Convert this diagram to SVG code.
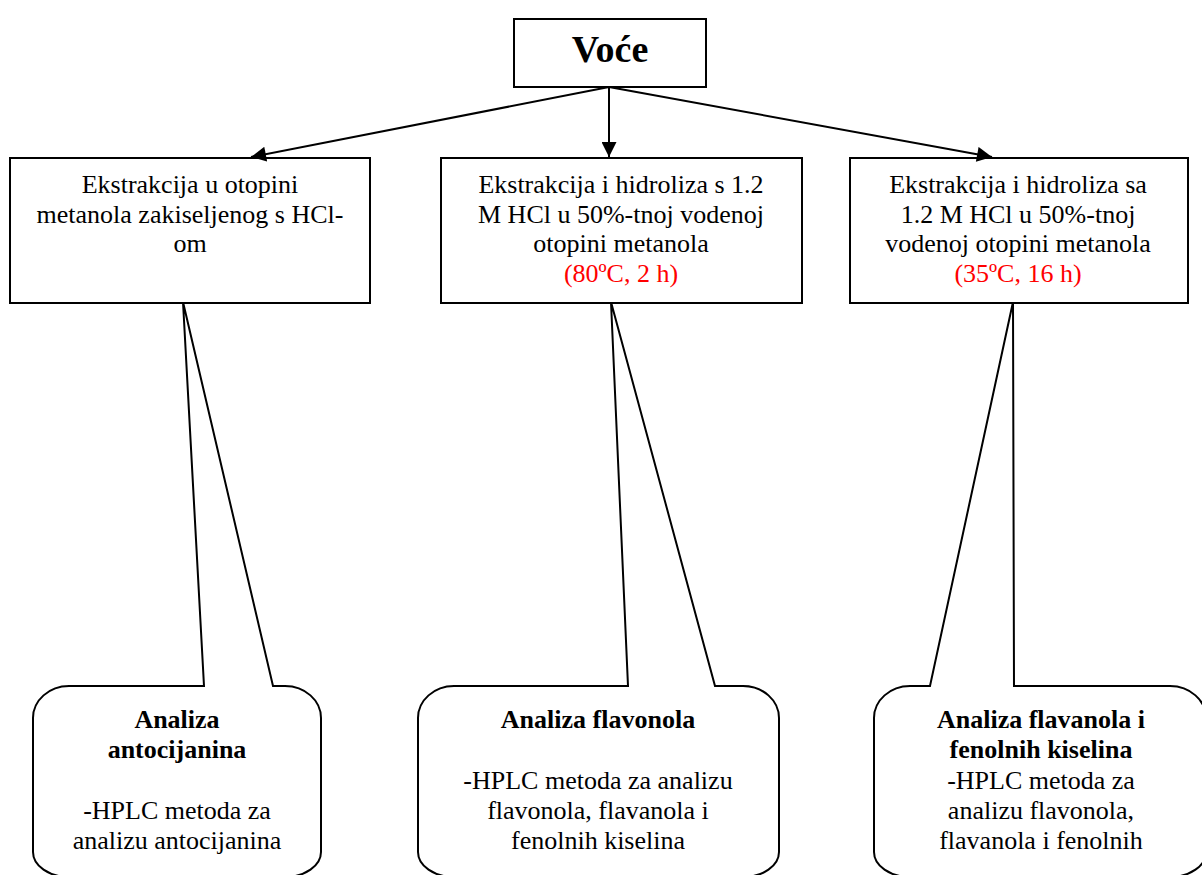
<svg xmlns="http://www.w3.org/2000/svg" width="1202" height="875" viewBox="0 0 1202 875">
<defs>
<style>
.box{fill:#fff;stroke:#000;stroke-width:2}
.call{fill:#fff;stroke:#000;stroke-width:2;stroke-linejoin:miter}
.t{font-family:"Liberation Serif","Times New Roman",serif;font-size:26px;fill:#000;text-anchor:middle}
.b{font-weight:bold}
.red{fill:#ff0000}
.conn{stroke:#000;stroke-width:2;fill:none}
</style>
<marker id="arr" viewBox="0 0 10 10" refX="10" refY="5" markerWidth="8" markerHeight="7.5" orient="auto" markerUnits="strokeWidth">
<path d="M0,0 L10,5 L0,10 Z" fill="#000"/>
</marker>
</defs>
<rect width="1202" height="875" fill="#fff"/>

<g id="callout-antocijanini">
<path class="call" d="M33,718 A36,32 0 0 1 69,686 L204,686 L183,302 L273,686 L285,686 A36,32 0 0 1 321,718 L321,852 A36,25 0 0 1 285,877 L69,877 A36,25 0 0 1 33,852 Z"/>
<text class="t b" x="177" y="728">Analiza</text>
<text class="t b" x="177" y="758">antocijanina</text>
<text class="t" x="177" y="819">-HPLC metoda za</text>
<text class="t" x="177" y="849">analizu antocijanina</text>
</g>

<g id="callout-flavonoli">
<path class="call" d="M418,718 A36,32 0 0 1 454,686 L628,686 L611,302 L715,686 L743,686 A36,32 0 0 1 779,718 L779,852 A36,25 0 0 1 743,877 L454,877 A36,25 0 0 1 418,852 Z"/>
<text class="t b" x="598" y="728">Analiza flavonola</text>
<text class="t" x="598" y="789">-HPLC metoda za analizu</text>
<text class="t" x="598" y="819">flavonola, flavanola i</text>
<text class="t" x="598" y="849">fenolnih kiselina</text>
</g>

<g id="callout-flavanoli">
<path class="call" d="M874,718 A36,32 0 0 1 910,686 L930,686 L1013,302 L1014,686 L1170,686 A36,32 0 0 1 1206,718 L1206,852 A36,25 0 0 1 1170,877 L910,877 A36,25 0 0 1 874,852 Z"/>
<text class="t b" x="1041" y="728">Analiza flavanola i</text>
<text class="t b" x="1041" y="758">fenolnih kiselina</text>
<text class="t" x="1041" y="789">-HPLC metoda za</text>
<text class="t" x="1041" y="819">analizu flavonola,</text>
<text class="t" x="1041" y="849">flavanola i fenolnih</text>
</g>

<g id="voce">
<rect class="box" x="514" y="19" width="192" height="68"/>
<text class="t b" x="610" y="62" style="font-size:38px">Voće</text>
</g>

<g id="ekstrakcija-1">
<rect class="box" x="10" y="158" width="360" height="145"/>
<text class="t" x="190" y="193">Ekstrakcija u otopini</text>
<text class="t" x="190" y="222.5">metanola zakiseljenog s HCl-</text>
<text class="t" x="190" y="252">om</text>
</g>

<g id="ekstrakcija-2">
<rect class="box" x="441" y="158" width="361" height="145"/>
<text class="t" x="621" y="193">Ekstrakcija i hidroliza s 1.2</text>
<text class="t" x="621" y="222.5">M HCl u 50%-tnoj vodenoj</text>
<text class="t" x="621" y="252">otopini metanola</text>
<text class="t red" x="621" y="281.5">(80ºC, 2 h)</text>
</g>

<g id="ekstrakcija-3">
<rect class="box" x="850" y="158" width="338" height="145"/>
<text class="t" x="1018" y="193">Ekstrakcija i hidroliza sa</text>
<text class="t" x="1018" y="222.5">1.2 M HCl u 50%-tnoj</text>
<text class="t" x="1018" y="252">vodenoj otopini metanola</text>
<text class="t red" x="1018" y="281.5">(35ºC, 16 h)</text>
</g>

<g id="connectors">
<line class="conn" x1="609" y1="87" x2="251" y2="157" marker-end="url(#arr)"/>
<line class="conn" x1="609" y1="87" x2="609" y2="157" marker-end="url(#arr)"/>
<line class="conn" x1="609" y1="87" x2="992" y2="157" marker-end="url(#arr)"/>
</g>
</svg>
